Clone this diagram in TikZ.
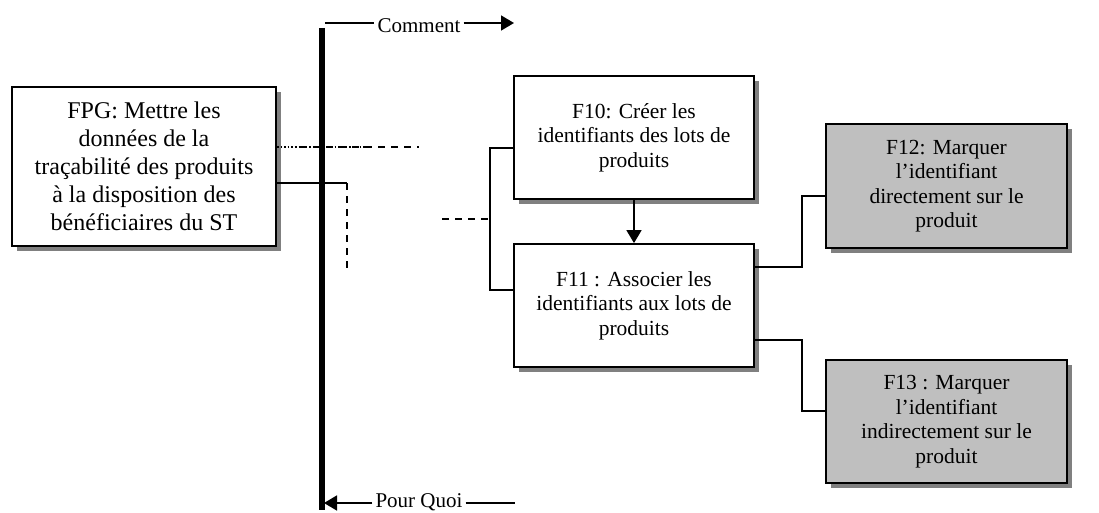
\documentclass[tikz,border=0pt]{standalone}
\usepackage{fontspec}
\setmainfont{Liberation Serif}
\usetikzlibrary{arrows.meta,shadows}
\tikzset{
  fbox/.style={draw, line width=1.8pt, fill=white, align=center, inner sep=2pt,
    drop shadow={shadow xshift=5pt, shadow yshift=-5pt, fill=black!50, opacity=1}},
  greybox/.style={fbox, fill=black!25},
  conn/.style={line width=1.6pt},
  dconn/.style={line width=1.6pt, dash pattern=on 7pt off 6pt},
  bigfont/.style={font=\fontsize{24}{28}\selectfont},
  smallfont/.style={font=\fontsize{21.5}{24.5}\selectfont},
  lblfont/.style={font=\fontsize{21}{24}\selectfont, inner sep=3pt},
  tip/.style={-{Triangle[length=13pt,width=15pt]}}
}
\begin{document}
\begin{tikzpicture}[x=1pt,y=-1pt]
\useasboundingbox (0,0) rectangle (1099,513);

% boxes
\node[fbox, bigfont, minimum width=264pt, minimum height=159pt] (fpg) at (144,166.5)
  {FPG: Mettre les\\données de la\\traçabilité des produits\\à la disposition des\\bénéficiaires du ST};
\node[fbox, smallfont, minimum width=240pt, minimum height=123pt] (f10) at (634,137.5)
  {F10: Créer les\\identifiants des lots de\\produits};
\node[fbox, smallfont, minimum width=240pt, minimum height=123pt] (f11) at (634,305.5)
  {F11 : Associer les\\identifiants aux lots de\\produits};
\node[greybox, smallfont, minimum width=241pt, minimum height=124pt] (f12) at (946.5,186)
  {F12: Marquer\\l’identifiant\\directement sur le\\produit};
\node[greybox, smallfont, minimum width=241pt, minimum height=123pt] (f13) at (946.5,421.5)
  {F13 : Marquer\\l’identifiant\\indirectement sur le\\produit};

% vertical bar
\coordinate (bartop) at (322,28);
\coordinate (barbot) at (322,510);
\draw[line width=5.5pt] (bartop) -- (barbot);

% Comment
\node[lblfont, anchor=base] (cm) at (419,32.5) {Comment};
\coordinate (cmstart) at (325,23);
\coordinate (cmend) at (514,23);
\draw[conn] (cmstart) -- (cmstart -| cm.west);
\draw[conn, tip] (cmend -| cm.east) -- (cmend);

% Pour Quoi
\node[lblfont, anchor=base] (pq) at (419,507) {Pour Quoi};
\coordinate (pqtip) at (324,503);
\coordinate (pqend) at (515,503);
\draw[conn, tip] (pqtip -| pq.west) -- (pqtip);
\draw[conn] (pqend -| pq.east) -- (pqend);

% lines from FPG
\coordinate (dot1) at (370,147);
\coordinate (das0) at (300,147);
\coordinate (das1) at (419,147);
\draw[line width=1.6pt, dotted] (fpg.east |- dot1) -- (dot1);
\draw[dconn] (das0) -- (das1);
\coordinate (sl) at (347,183);
\coordinate (sld) at (347,273);
\draw[conn] (fpg.east |- sl) -- (sl);
\draw[dconn] (sl) -- (sld);

% bracket F10/F11
\coordinate (br1) at (490,148);
\coordinate (br2) at (490,290);
\coordinate (ds) at (442,219);
\draw[conn] (f10.west |- br1) -- (br1) -- (br2) -- (f11.west |- br2);
\draw[dconn] (ds) -- (ds -| br1);

% F10 -> F11
\draw[conn, tip] (f10.south) -- (f10.south |- f11.north);

% F11 -> F12, F13
\coordinate (j1) at (802,267);
\coordinate (j2) at (802,196);
\draw[conn] (f11.east |- j1) -- (j1) -- (j2) -- (f12.west |- j2);
\coordinate (k1) at (802,340);
\coordinate (k2) at (802,411);
\draw[conn] (f11.east |- k1) -- (k1) -- (k2) -- (f13.west |- k2);
\end{tikzpicture}
\end{document}
